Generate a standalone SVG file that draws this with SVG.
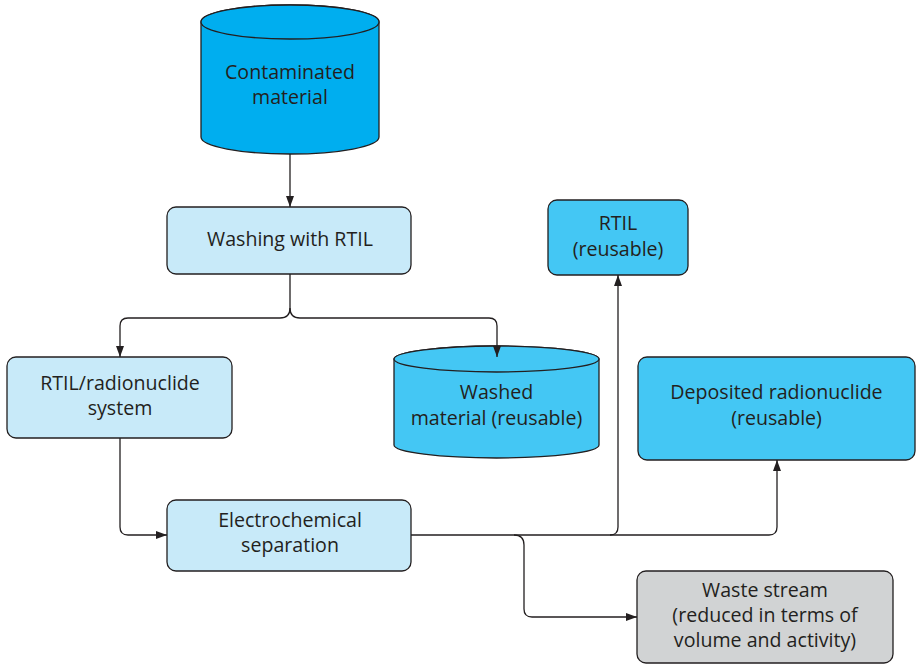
<svg xmlns="http://www.w3.org/2000/svg" width="916" height="664" viewBox="0 0 916 664">
<style>
text{font-family:"Open Sans","Noto Sans",sans-serif;font-size:19.6px;fill:#231F20;text-anchor:middle}
.n{stroke:#231F20;stroke-width:1.3}
.light{fill:#C8EAF9}
.mid{fill:#44C7F4}
.dark{fill:#00AEEF}
.grey{fill:#D1D3D4}
.c{fill:none;stroke:#231F20;stroke-width:1.3}
</style>
<defs>
<marker id="ah" viewBox="0 0 11 8" refX="11" refY="4" markerWidth="11" markerHeight="8" markerUnits="userSpaceOnUse" orient="auto">
<path d="M0,0 L11,4 L0,8 Z" fill="#231F20"/>
</marker>
</defs>
<rect width="916" height="664" fill="#fff"/>
<g id="contaminated">
<path class="n dark" d="M201,22 V137 A89,17 0 0 0 379,137 V22 A89,17 0 0 0 201,22 Z"/>
<ellipse class="n dark" cx="290" cy="22" rx="89" ry="17"/>
<text x="290" y="79">Contaminated</text>
<text x="290" y="104">material</text>
</g>
<g id="washing">
<rect class="n light" x="167" y="207" width="244" height="67" rx="9"/>
<text x="290" y="246">Washing with RTIL</text>
</g>
<g id="rtilsys">
<rect class="n light" x="7" y="357" width="225" height="81" rx="9"/>
<text x="120" y="390">RTIL/radionuclide</text>
<text x="120" y="415">system</text>
</g>
<g id="washed">
<path class="n mid" d="M394,359 V445 A102.5,13 0 0 0 599,445 V359 A102.5,13 0 0 0 394,359 Z"/>
<ellipse class="n mid" cx="496.5" cy="359" rx="102.5" ry="13"/>
<text x="496.5" y="399">Washed</text>
<text x="496.5" y="425">material (reusable)</text>
</g>
<g id="electro">
<rect class="n light" x="167" y="500" width="244" height="71" rx="9"/>
<text x="290" y="527">Electrochemical</text>
<text x="290" y="552">separation</text>
</g>
<g id="rtil">
<rect class="n mid" x="548" y="200" width="140" height="75" rx="9"/>
<text x="618" y="230">RTIL</text>
<text x="618" y="256">(reusable)</text>
</g>
<g id="deposited">
<rect class="n mid" x="638" y="357" width="277" height="103" rx="9"/>
<text x="776.5" y="399">Deposited radionuclide</text>
<text x="776.5" y="425">(reusable)</text>
</g>
<g id="waste">
<rect class="n grey" x="637" y="571" width="256" height="92" rx="9"/>
<text x="765" y="597">Waste stream</text>
<text x="765" y="622">(reduced in terms of</text>
<text x="765" y="647">volume and activity)</text>
</g>
<g id="connectors">
<path class="c" d="M290,154 V207" marker-end="url(#ah)"/>
<path class="c" d="M290,274 V308 Q290,318 280,318 H128 Q120,318 120,326 V357" marker-end="url(#ah)"/>
<path class="c" d="M290,308 Q290,318 300,318 H489 Q497,318 497,326 V357" marker-end="url(#ah)"/>
<path class="c" d="M120,438 V527 Q120,535 128,535 H167" marker-end="url(#ah)"/>
<path class="c" d="M411,535 H610 Q618,535 618,527 V275" marker-end="url(#ah)"/>
<path class="c" d="M610,535 H769 Q777,535 777,527 V460" marker-end="url(#ah)"/>
<path class="c" d="M514,535 Q524,535 524,545 V609 Q524,617 532,617 H637" marker-end="url(#ah)"/>
</g>
</svg>
